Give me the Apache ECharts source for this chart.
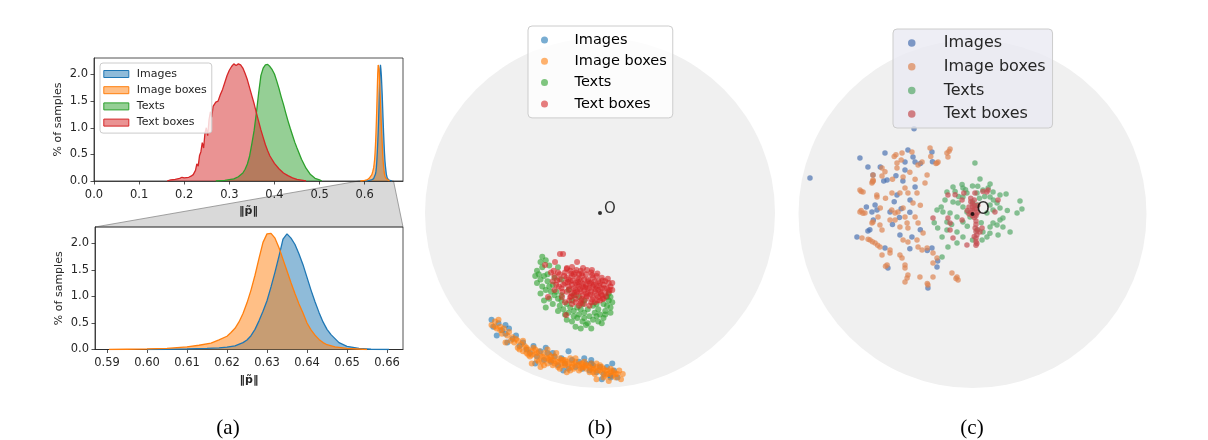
<!DOCTYPE html>
<html><head><meta charset="utf-8">
<script src="https://cdn.jsdelivr.net/npm/echarts@6/dist/echarts.min.js"></script>
<style>html,body{margin:0;padding:0;background:#fff}#c{width:1208px;height:440px}</style>
</head><body><div id="c"></div>
<script>
// ---------- categories ----------
const seriesNames = ['Images', 'Image boxes', 'Texts', 'Text boxes'];
const captions = ['(a)', '(b)', '(c)'];
const axisTitleX = '‖p̃‖';
const axisTitleY = '% of samples';
const originLabel = 'O';

// ---------- tick labels ----------
const topXTicks = [0.0, 0.1, 0.2, 0.3, 0.4, 0.5, 0.6];
const botXTicks = [0.59, 0.60, 0.61, 0.62, 0.63, 0.64, 0.65, 0.66];
const histYTicks = [0.0, 0.5, 1.0, 1.5, 2.0];
const topXRange = [0, 0.685];
const botXRange = [0.587, 0.664];
const histYRange = [0, 2.31];
const diskRange = [-1, 1];

// ---------- histogram values (% of samples) ----------
const imagesX = [0.60,0.605,0.61,0.615,0.618,0.62,0.622,0.624,0.625,0.626,0.627,0.628,0.629,0.63,0.631,0.632,0.633,0.634,0.635,0.636,0.637,0.638,0.639,0.64,0.641,0.642,0.643,0.644,0.645,0.646,0.648,0.65,0.653,0.656,0.6605];
const imagesY = [0,0.005,0.01,0.02,0.03,0.045,0.07,0.13,0.18,0.26,0.38,0.54,0.72,0.92,1.18,1.46,1.76,2.08,2.18,2.10,1.98,1.80,1.60,1.36,1.12,0.90,0.70,0.52,0.38,0.28,0.13,0.06,0.02,0.005,0];
const imageBoxesX = [0.5905,0.595,0.60,0.605,0.61,0.613,0.616,0.618,0.62,0.621,0.622,0.623,0.624,0.625,0.626,0.627,0.628,0.629,0.63,0.631,0.632,0.633,0.634,0.635,0.636,0.637,0.638,0.639,0.64,0.641,0.642,0.643,0.644,0.645,0.647,0.65,0.655];
const imageBoxesY = [0,0.005,0.01,0.02,0.05,0.08,0.12,0.18,0.25,0.32,0.40,0.52,0.68,0.88,1.12,1.40,1.72,2.02,2.18,2.19,2.10,1.92,1.70,1.48,1.26,1.05,0.86,0.69,0.50,0.37,0.27,0.19,0.13,0.09,0.05,0.02,0];
const textsX = [0.27,0.29,0.31,0.32,0.33,0.335,0.34,0.345,0.35,0.355,0.36,0.365,0.37,0.375,0.38,0.385,0.39,0.395,0.40,0.405,0.41,0.415,0.42,0.425,0.43,0.435,0.44,0.445,0.45,0.46,0.47,0.48,0.49,0.50,0.505];
const textsY = [0,0.01,0.04,0.08,0.15,0.22,0.32,0.47,0.70,0.95,1.28,1.65,1.98,2.12,2.18,2.19,2.15,2.09,2.01,1.88,1.74,1.58,1.44,1.28,1.13,0.99,0.86,0.73,0.62,0.41,0.24,0.12,0.05,0.02,0];
const textBoxesX = [0.162,0.17,0.18,0.19,0.195,0.20,0.21,0.215,0.22,0.225,0.228,0.231,0.234,0.237,0.24,0.243,0.246,0.249,0.252,0.255,0.258,0.261,0.264,0.267,0.27,0.275,0.28,0.285,0.29,0.295,0.30,0.305,0.31,0.315,0.32,0.325,0.33,0.335,0.34,0.345,0.35,0.355,0.36,0.365,0.37,0.375,0.38,0.385,0.39,0.40,0.41,0.42,0.43,0.44,0.45,0.46,0.47];
const textBoxesY = [0,0.02,0.03,0.05,0.07,0.06,0.07,0.09,0.12,0.20,0.32,0.28,0.48,0.55,0.72,0.62,0.90,1.00,0.85,1.15,1.30,1.20,1.40,1.38,1.48,1.50,1.62,1.72,1.85,1.98,2.08,2.15,2.20,2.17,2.20,2.18,2.12,2.02,1.90,1.75,1.60,1.45,1.28,1.12,0.96,0.82,0.68,0.57,0.47,0.33,0.23,0.15,0.10,0.06,0.03,0.015,0];

// ---------- panel (b) embeddings (Poincaré disk coords) ----------
const bImages = [[-0.62,-0.61],[-0.61,-0.65],[-0.58,-0.63],[-0.56,-0.67],[-0.54,-0.69],[-0.52,-0.66],[-0.50,-0.72],[-0.48,-0.70],[-0.46,-0.76],[-0.44,-0.74],[-0.42,-0.78],[-0.40,-0.80],[-0.38,-0.76],[-0.36,-0.82],[-0.34,-0.79],[-0.32,-0.84],[-0.30,-0.80],[-0.28,-0.85],[-0.26,-0.82],[-0.24,-0.87],[-0.22,-0.83],[-0.20,-0.86],[-0.18,-0.89],[-0.16,-0.84],[-0.14,-0.88],[-0.12,-0.85],[-0.10,-0.89],[-0.08,-0.86],[-0.06,-0.90],[-0.04,-0.87],[-0.02,-0.91],[0.00,-0.88],[0.02,-0.92],[0.04,-0.88],[0.06,-0.93],[0.08,-0.90],[0.10,-0.94],[-0.31,-0.77],[-0.27,-0.80],[-0.09,-0.83],[-0.05,-0.84],[0.07,-0.86],[-0.37,-0.86],[-0.21,-0.90],[0.01,-0.95],[-0.54,-0.64],[-0.59,-0.70],[-0.53,-0.74],[-0.18,-0.79],[-0.05,-0.86],[0.06,-0.94]];
const bImageBoxes = [[-0.62,-0.64],[-0.60,-0.62],[-0.59,-0.66],[-0.57,-0.65],[-0.56,-0.69],[-0.55,-0.66],[-0.53,-0.70],[-0.52,-0.68],[-0.51,-0.73],[-0.50,-0.71],[-0.49,-0.74],[-0.47,-0.73],[-0.47,-0.77],[-0.45,-0.75],[-0.44,-0.79],
[-0.43,-0.76],[-0.42,-0.80],[-0.41,-0.78],[-0.40,-0.82],[-0.39,-0.79],[-0.38,-0.77],[-0.37,-0.81],[-0.36,-0.84],[-0.35,-0.79],[-0.34,-0.82],[-0.33,-0.85],[-0.32,-0.80],[-0.31,-0.83],[-0.30,-0.86],[-0.29,-0.81],[-0.28,-0.84],[-0.27,-0.87],[-0.26,-0.82],[-0.25,-0.85],[-0.24,-0.88],[-0.23,-0.83],[-0.22,-0.86],[-0.21,-0.84],[-0.20,-0.87],[-0.19,-0.85],[-0.18,-0.88],[-0.17,-0.83],[-0.16,-0.86],[-0.15,-0.89],[-0.14,-0.85],[-0.13,-0.87],[-0.12,-0.90],[-0.11,-0.86],[-0.10,-0.88],[-0.09,-0.85],[-0.08,-0.89],[-0.07,-0.87],[-0.06,-0.91],[-0.05,-0.86],[-0.04,-0.89],[-0.03,-0.92],[-0.02,-0.88],[-0.01,-0.90],[0.00,-0.87],[0.01,-0.91],[0.02,-0.89],[0.03,-0.93],[0.04,-0.90],[0.05,-0.92],[0.06,-0.89],[0.07,-0.93],[0.08,-0.91],[0.09,-0.94],[0.10,-0.92],[0.12,-0.95],[0.11,-0.90],
[-0.42,-0.77],[-0.39,-0.81],[-0.36,-0.80],[-0.33,-0.82],[-0.30,-0.83],[-0.27,-0.84],[-0.24,-0.85],[-0.21,-0.87],[-0.18,-0.86],[-0.15,-0.86],[-0.12,-0.87],[-0.09,-0.88],[-0.06,-0.88],[-0.03,-0.89],[0.00,-0.90],[0.03,-0.90],[0.06,-0.91],
[-0.39,-0.86],[-0.25,-0.80],[-0.34,-0.88],[-0.19,-0.91],[-0.02,-0.95],[0.05,-0.96],[0.13,-0.92],[-0.44,-0.73],[-0.58,-0.61],[-0.54,-0.74],[-0.30,-0.78],
[-0.41,-0.81],[-0.37,-0.78],[-0.35,-0.85],[-0.32,-0.87],[-0.29,-0.84],[-0.26,-0.86],[-0.23,-0.89],[-0.20,-0.84],[-0.17,-0.90],[-0.14,-0.83],[-0.11,-0.89],[-0.08,-0.87],[-0.05,-0.89],[-0.02,-0.86],[0.01,-0.88],[0.04,-0.92],[0.07,-0.90],[0.09,-0.92],[-0.28,-0.82],[-0.22,-0.84],[-0.16,-0.88],[-0.10,-0.86],[-0.04,-0.91],[0.02,-0.94],[-0.46,-0.78],[-0.48,-0.72],[-0.57,-0.67],[-0.60,-0.65]];
const bTexts = [[-0.36,-0.33],[-0.34,-0.28],[-0.34,-0.38],[-0.31,-0.44],[-0.29,-0.49],[-0.30,-0.35],[-0.27,-0.41],[-0.32,-0.50],[-0.25,-0.45],[-0.31,-0.54],[-0.33,-0.31],[-0.29,-0.30],[-0.36,-0.40],[-0.28,-0.45],[-0.30,-0.39],[-0.26,-0.37],[-0.34,-0.46],[-0.27,-0.52],[-0.24,-0.49],[-0.31,-0.27],
[-0.22,-0.50],[-0.19,-0.52],[-0.16,-0.50],[-0.13,-0.54],[-0.10,-0.52],[-0.07,-0.55],[-0.04,-0.53],[-0.01,-0.55],[0.02,-0.52],[0.05,-0.50],
[-0.21,-0.55],[-0.18,-0.57],[-0.15,-0.56],[-0.12,-0.58],[-0.09,-0.57],[-0.06,-0.59],[-0.03,-0.57],[0.00,-0.58],[0.03,-0.56],[0.06,-0.54],
[-0.19,-0.61],[-0.16,-0.62],[-0.13,-0.60],[-0.10,-0.62],[-0.07,-0.63],[-0.04,-0.61],[-0.01,-0.62],[0.02,-0.60],
[-0.14,-0.65],[-0.11,-0.66],[-0.08,-0.64],[-0.05,-0.66],[-0.20,-0.58],[-0.23,-0.53],
[0.05,-0.46],[0.06,-0.48],[0.04,-0.53],[0.07,-0.51],[0.03,-0.58],[0.06,-0.57],
[-0.22,-0.38],[-0.18,-0.44],[-0.15,-0.47],[-0.24,-0.31],[-0.12,-0.48],[-0.09,-0.50],
[-0.35,-0.35],[-0.33,-0.42],[-0.32,-0.36],[-0.29,-0.42],[-0.26,-0.47],[-0.22,-0.47],[-0.17,-0.54],[-0.11,-0.55],[-0.02,-0.59],[0.01,-0.63],[-0.09,-0.60],[-0.15,-0.59],[-0.24,-0.56],[0.04,-0.48],[-0.02,-0.52],[-0.37,-0.36],[-0.33,-0.25]];
const bTextBoxes = [[-0.229,-0.234],[-0.211,-0.234],[-0.257,-0.280],[-0.131,-0.280],[-0.314,-0.297],[-0.189,-0.314],[-0.160,-0.309],[-0.097,-0.314],[-0.046,-0.326],[-0.217,-0.480],[-0.194,-0.583],[-0.297,-0.480],
[-0.20,-0.34],[-0.17,-0.33],[-0.14,-0.34],[-0.11,-0.33],[-0.08,-0.35],[-0.05,-0.34],[-0.02,-0.36],[0.01,-0.37],[0.03,-0.39],
[-0.19,-0.37],[-0.16,-0.36],[-0.13,-0.37],[-0.10,-0.36],[-0.07,-0.38],[-0.04,-0.37],[-0.01,-0.39],[0.02,-0.41],[0.05,-0.40],
[-0.20,-0.40],[-0.17,-0.39],[-0.14,-0.40],[-0.11,-0.39],[-0.08,-0.41],[-0.05,-0.40],[-0.02,-0.42],[0.01,-0.43],[0.04,-0.43],[0.06,-0.42],
[-0.18,-0.42],[-0.15,-0.43],[-0.12,-0.42],[-0.09,-0.44],[-0.06,-0.43],[-0.03,-0.45],[0.00,-0.45],[0.03,-0.46],[0.05,-0.45],
[-0.19,-0.45],[-0.16,-0.46],[-0.13,-0.45],[-0.10,-0.47],[-0.07,-0.46],[-0.04,-0.48],[-0.01,-0.48],[0.02,-0.49],
[-0.17,-0.48],[-0.14,-0.49],[-0.11,-0.50],[-0.08,-0.49],[-0.05,-0.51],
[-0.15,-0.35],[-0.12,-0.38],[-0.09,-0.38],[-0.06,-0.40],[-0.03,-0.39],[0.00,-0.40],[-0.13,-0.41],[-0.10,-0.42],[-0.07,-0.43],[-0.04,-0.42],[-0.01,-0.44],[-0.16,-0.41],[-0.11,-0.45],[-0.08,-0.46],[-0.05,-0.45],[-0.02,-0.47],[0.01,-0.47],[-0.14,-0.44],[-0.18,-0.38],[-0.12,-0.35],
[-0.28,-0.34],[-0.26,-0.36],[-0.24,-0.34],[-0.27,-0.39],[-0.25,-0.41],[-0.23,-0.38],[-0.22,-0.43],[-0.26,-0.44],[-0.23,-0.35],[-0.21,-0.41],
[-0.20,-0.51],[-0.16,-0.52],[-0.12,-0.53],[-0.09,-0.52],[-0.06,-0.53],[-0.03,-0.51],[-0.14,-0.51],[0.00,-0.50],[0.07,-0.40],[0.07,-0.44],
[-0.19,-0.32],[-0.165,-0.345],[-0.135,-0.325],[-0.105,-0.345],[-0.075,-0.325],[-0.045,-0.355],[-0.015,-0.345],[0.015,-0.385],[0.045,-0.375],
[-0.185,-0.395],[-0.155,-0.385],[-0.125,-0.395],[-0.095,-0.405],[-0.065,-0.39],[-0.035,-0.41],[-0.005,-0.415],[0.025,-0.43],[0.055,-0.44],
[-0.175,-0.435],[-0.145,-0.455],[-0.115,-0.435],[-0.085,-0.425],[-0.055,-0.465],[-0.025,-0.435],[0.005,-0.46],[0.035,-0.475],
[-0.165,-0.475],[-0.135,-0.47],[-0.105,-0.49],[-0.075,-0.475],[-0.045,-0.495],[-0.015,-0.5],[0.015,-0.49],
[-0.205,-0.36],[-0.215,-0.45],[-0.245,-0.385],[-0.265,-0.33],[-0.235,-0.42],[-0.175,-0.50],[-0.11,-0.515]];

// ---------- panel (c) embeddings ----------
const cImages = [[-0.503,0.351],[-0.371,0.368],[-0.342,0.328],[-0.233,0.356],[-0.647,0.322],[-0.601,0.27],[-0.388,0.299],[-0.33,0.299],[-0.388,0.253],[-0.491,0.195],[-0.434,0.109],[-0.33,0.155],[-0.359,0.08],[-0.578,0.011],[-0.549,0.023],[-0.474,0.011],[-0.601,-0.098],[-0.664,-0.132],[-0.503,-0.195],[-0.417,-0.121],[-0.348,-0.132],[-0.233,-0.195],[-0.204,-0.305],[-0.486,-0.31],[-0.256,-0.425],[-0.56,0.052],[-0.934,0.207],[-0.336,0.49],[-0.30,0.29],[-0.23,0.30],[-0.26,-0.21],[-0.20,-0.27],[-0.45,0.07],[-0.42,-0.02],[-0.40,0.19],[-0.53,0.27],[-0.36,-0.20],[-0.30,-0.09],[-0.41,0.03],[-0.46,-0.06],[-0.61,0.04],[-0.44,0.22],[-0.572,0.224],[-0.57,-0.035],[-0.59,-0.09],[-0.51,0.19],[-0.36,0.01]];
const cImageBoxes = [[-0.44,0.34],[-0.45,0.33],[-0.405,0.35],[-0.348,0.356],[-0.244,0.379],[-0.147,0.351],[-0.129,0.374],[-0.141,0.328],[-0.135,0.36],
[-0.52,0.264],[-0.434,0.293],[-0.29,0.299],[-0.313,0.282],[-0.204,0.293],[-0.198,0.299],[-0.21,0.29],
[-0.572,0.224],[-0.52,0.218],[-0.434,0.264],[-0.399,0.213],[-0.578,0.178],[-0.57,0.19],[-0.575,0.185],[-0.572,0.195],[-0.261,0.224],[-0.273,0.178],
[-0.647,0.138],[-0.629,0.126],[-0.64,0.13],[-0.549,0.098],[-0.463,0.121],[-0.417,0.121],[-0.388,0.149],[-0.371,0.121],[-0.319,0.121],[-0.342,0.063],
[-0.647,0.011],[-0.64,0.02],[-0.63,0.005],[-0.618,0.006],[-0.543,-0.017],[-0.445,0.006],[-0.428,0.011],[-0.399,0.034],[-0.388,-0.017],[-0.474,-0.034],[-0.445,-0.034],[-0.578,-0.052],[-0.572,-0.046],
[-0.532,-0.063],[-0.52,-0.092],[-0.417,-0.075],[-0.371,-0.08],[-0.376,-0.052],
[-0.635,-0.138],[-0.60,-0.145],[-0.589,-0.149],[-0.575,-0.16],[-0.56,-0.167],[-0.545,-0.18],[-0.532,-0.19],[-0.474,-0.207],[-0.399,-0.149],[-0.371,-0.161],[-0.319,-0.149],[-0.313,-0.19],[-0.29,-0.207],[-0.261,-0.195],[-0.227,-0.224],[-0.204,-0.253],[-0.227,-0.282],
[-0.52,-0.236],[-0.474,-0.224],[-0.417,-0.236],[-0.405,-0.253],[-0.491,-0.293],[-0.50,-0.30],[-0.388,-0.293],[-0.388,-0.31],[-0.371,-0.351],[-0.376,-0.368],[-0.388,-0.391],[-0.302,-0.362],[-0.256,-0.408],[-0.26,-0.40],[-0.227,-0.362],[-0.118,-0.339],[-0.089,-0.362],[-0.083,-0.379],[-0.095,-0.37],
[-0.33,-0.017],[-0.313,-0.052],[-0.284,-0.109],[-0.36,0.24],[-0.30,0.05],[-0.46,0.20],[-0.50,0.09],[-0.33,0.20],[-0.24,0.33],[-0.41,0.31],[-0.53,0.034],[-0.464,0.023],[-0.55,0.109],[-0.503,0.243]];
const cTexts = [[0.014,0.293],[0.043,0.201],[0.101,0.172],[0,0.161],[-0.055,0.149],[-0.112,0.155],[-0.147,0.126],[-0.158,0.080],[-0.112,0.069],[-0.083,0.063],[-0.055,0.098],[-0.032,0.121],[0.026,0.121],[0.060,0.138],[0.118,0.126],[0.158,0.109],[0.193,0.115],[0.101,0.098],[0.141,0.063],[0.273,0.075],[0.284,0.029],[0.256,0.006],[0.175,-0.023],[0.158,-0.034],[0.118,-0.052],[0.101,-0.075],[0.141,-0.063],[0.175,-0.075],[0.216,-0.103],[0.147,-0.121],[0.06,-0.103],[0.026,-0.092],[0.083,-0.132],[0.055,-0.149],[0,-0.149],[-0.055,-0.132],[-0.089,-0.103],[-0.147,-0.092],[-0.175,-0.132],[-0.141,-0.19],[-0.089,-0.167],[-0.175,-0.247],[-0.204,0.023],[-0.17,0.011],[-0.129,0.006],[-0.089,-0.017],[-0.147,-0.046],[-0.055,-0.046],[-0.014,-0.017],[0.083,0.006],[0.118,0.023],[0.158,0.034],[-0.055,0.04],[0,0.069],[0.026,0.052],[0.101,0.052],[-0.032,0.011],
[-0.18,0.04],[-0.10,0.13],[-0.06,0.17],[0.03,0.16],[0.07,0.10],[0.12,0.08],[-0.12,-0.06],[-0.03,-0.07],[0.05,-0.05],[0.20,0.02],[-0.20,-0.08],[0.10,-0.11],[-0.22,-0.05],[-0.08,0.10],[0.04,0.09],[0.09,0.15],[-0.04,0.14]];
const cTextBoxes = [[0,0.02],[0.01,0.03],[-0.01,0.01],[0.02,0.0],[-0.02,0.04],[0,0.06],[0.01,0.05],[-0.01,0.07],[0.02,0.03],[-0.03,0.02],[0.03,0.01],[0,-0.01],[0.01,-0.02],[-0.02,0],[0.02,-0.01],[0.01,0.08],[-0.01,0.09],[0.0,0.04],[0.03,0.05],
[0.02,-0.04],[0.02,-0.06],[0.015,-0.08],[0.02,-0.10],[0.025,-0.12],[0.02,-0.14],[0.02,-0.16],[0.02,-0.18],[0.03,-0.09],[0.01,-0.13],[0.025,-0.17],
[-0.141,0.109],[-0.06,0.08],[0.014,0.121],[0.083,0.126],[0.089,0.138],[0.147,0.08],[0.129,0.011],[-0.227,-0.023],[-0.141,-0.023],[-0.129,-0.052],[-0.129,-0.092],[-0.06,-0.034],[-0.112,-0.138],[-0.032,-0.178],[0.055,-0.08],[0.043,-0.103],[-0.10,0.11],[-0.05,0.12],[0.06,0.13]];
const origin = [[0, 0]];
const diskUnit = [[0, 0, 1]];

// ---------- styling ----------
const tab10 = ['#1f77b4', '#ff7f0e', '#2ca02c', '#d62728'];
const deep = ['#4C72B0', '#DD8452', '#55A868', '#C44E52'];
function rgba(hex, a) {
  const n = parseInt(hex.slice(1), 16);
  return 'rgba(' + ((n >> 16) & 255) + ',' + ((n >> 8) & 255) + ',' + (n & 255) + ',' + a + ')';
}
const ink = '#262626';
const font = 'DejaVu Sans';

function histAxis(range, ticks, digits, isX) {
  return {
    type: 'value', min: range[0], max: range[1], gridIndex: 0,
    axisLine: { show: true, onZero: false, lineStyle: { color: ink, width: 0.8 } },
    axisTick: { show: true, length: 3.5, customValues: ticks, lineStyle: { color: ink, width: 0.8 } },
    axisLabel: { customValues: ticks, color: ink, fontSize: 11.5, fontFamily: font, margin: isX ? 8 : 6,
      formatter: v => Number(v).toFixed(digits) },
    splitLine: { show: false },
    name: isX ? axisTitleX : axisTitleY, nameLocation: 'middle', nameGap: isX ? 25 : 30,
    nameTextStyle: { color: ink, fontSize: 11, fontFamily: font, fontWeight: isX ? 'bold' : 'normal' }
  };
}
function diskAxis(g) {
  return { type: 'value', gridIndex: g, min: diskRange[0], max: diskRange[1], show: false };
}
function hist(name, xs, ys, color, g) {
  return { type: 'line', name, xAxisIndex: g, yAxisIndex: g, data: xs.map((x, i) => [x, ys[i]]),
    symbol: 'none', silent: true, lineStyle: { color, width: 1.3 }, itemStyle: { color },
    areaStyle: { color, opacity: 0.5 }, z: 2 };
}
function disk(g) {
  return { type: 'custom', xAxisIndex: g, yAxisIndex: g, data: diskUnit, silent: true, z: 1,
    renderItem: (params, api) => {
      const c = api.coord([api.value(0), api.value(1)]);
      const e = api.coord([api.value(0) + api.value(2), api.value(1)]);
      return { type: 'circle', shape: { cx: c[0], cy: c[1], r: e[0] - c[0] }, style: { fill: '#f0f0f0' } };
    } };
}
function scat(name, data, color, g, size, op) {
  return { type: 'scatter', name, xAxisIndex: g, yAxisIndex: g, data, symbolSize: size, silent: true,
    itemStyle: { color, opacity: op }, z: 3 };
}
function originSeries(g, fs, off) {
  return { type: 'scatter', xAxisIndex: g, yAxisIndex: g, data: origin, symbolSize: 4, silent: true, z: 5,
    itemStyle: { color: '#000' },
    label: { show: true, formatter: originLabel, position: 'right', distance: 2, offset: off,
      fontSize: fs, fontFamily: font, color: '#000' } };
}
function legendItems(colors, op, border) {
  return seriesNames.map((n, i) => ({ name: n, itemStyle: border
    ? { color: rgba(colors[i], op), borderColor: colors[i], borderWidth: 1 }
    : { color: rgba(colors[i], op), borderWidth: 0 } }));
}

const chart = echarts.init(document.getElementById('c'), null, { renderer: 'canvas' });
const option = {
  animation: false,
  backgroundColor: '#ffffff',
  title: captions.map((t, i) => ({ text: t, left: [228, 600, 972][i], top: 418, textAlign: 'center', padding: 0,
    textStyle: { fontFamily: 'Liberation Serif', fontSize: 21, fontWeight: 'normal', color: '#000' } })),
  grid: [
    { left: 94, top: 58, width: 309, height: 123, show: true, borderColor: ink, borderWidth: 0.8 },
    { left: 95, top: 227, width: 308, height: 122.5, show: true, borderColor: ink, borderWidth: 0.8 },
    { left: 425, top: 38, width: 350, height: 350 },
    { left: 798.5, top: 40, width: 348, height: 348 }
  ],
  xAxis: [
    Object.assign(histAxis(topXRange, topXTicks, 1, true), { gridIndex: 0 }),
    Object.assign(histAxis(botXRange, botXTicks, 2, true), { gridIndex: 1 }),
    diskAxis(2), diskAxis(3)
  ],
  yAxis: [
    Object.assign(histAxis(histYRange, histYTicks, 1, false), { gridIndex: 0 }),
    Object.assign(histAxis(histYRange, histYTicks, 1, false), { gridIndex: 1 }),
    diskAxis(2), diskAxis(3)
  ],
  legend: [
    { orient: 'vertical', left: 100, top: 63, icon: 'rect', itemWidth: 25, itemHeight: 7, itemGap: 3.2,
      padding: [4.5, 5, 4, 3.3], backgroundColor: 'rgba(255,255,255,0.8)', borderColor: '#cccccc', borderWidth: 1, borderRadius: 3,
      selectedMode: false, data: legendItems(tab10, 0.5, true),
      textStyle: { fontSize: 11, lineHeight: 13, fontFamily: font, color: ink, padding: [0, 0, 0, 3] } },
    { orient: 'vertical', left: 528, top: 26, icon: 'circle', itemWidth: 14, itemHeight: 7, itemGap: 5.3,
      padding: [6, 6, 6, 13], backgroundColor: 'rgba(255,255,255,0.8)', borderColor: '#cccccc', borderWidth: 1, borderRadius: 4,
      selectedMode: false, data: legendItems(tab10, 0.6, false),
      textStyle: { fontSize: 14.5, lineHeight: 16, fontFamily: font, color: '#000', padding: [0, 0, 0, 18] } },
    { orient: 'vertical', left: 893, top: 29, icon: 'circle', itemWidth: 14, itemHeight: 7.5, itemGap: 6.7,
      padding: [5.5, 7, 5.4, 15], backgroundColor: 'rgba(234,234,242,0.8)', borderColor: '#cccccc', borderWidth: 1, borderRadius: 4,
      selectedMode: false, data: legendItems(deep, 0.7, false),
      textStyle: { fontSize: 16, lineHeight: 17, fontFamily: font, color: ink, padding: [0, 0, 0, 20] } }
  ],
  series: [
    hist(seriesNames[0], imagesX, imagesY, tab10[0], 0),
    hist(seriesNames[1], imageBoxesX, imageBoxesY, tab10[1], 0),
    hist(seriesNames[2], textsX, textsY, tab10[2], 0),
    hist(seriesNames[3], textBoxesX, textBoxesY, tab10[3], 0),
    hist(seriesNames[0], imagesX, imagesY, tab10[0], 1),
    hist(seriesNames[1], imageBoxesX, imageBoxesY, tab10[1], 1),
    disk(2),
    scat(seriesNames[0], bImages, tab10[0], 2, 6, 0.6),
    scat(seriesNames[1], bImageBoxes, tab10[1], 2, 6, 0.6),
    scat(seriesNames[2], bTexts, tab10[2], 2, 6, 0.6),
    scat(seriesNames[3], bTextBoxes, tab10[3], 2, 6, 0.6),
    originSeries(2, 15, [0, -4]),
    disk(3),
    scat(seriesNames[0], cImages, deep[0], 3, 5.5, 0.7),
    scat(seriesNames[1], cImageBoxes, deep[1], 3, 5.5, 0.7),
    scat(seriesNames[2], cTexts, deep[2], 3, 5.5, 0.7),
    scat(seriesNames[3], cTextBoxes, deep[3], 3, 5.5, 0.7),
    originSeries(3, 17, [0, -4])
  ]
};
chart.setOption(option);

// zoom-connector patch between the two histogram panels, from the axis scales
const p1 = chart.convertToPixel({ gridIndex: 0 }, [botXRange[0], histYRange[0]]);
const p2 = chart.convertToPixel({ gridIndex: 0 }, [botXRange[1], histYRange[0]]);
const p3 = chart.convertToPixel({ gridIndex: 1 }, [botXRange[1], histYRange[1]]);
const p4 = chart.convertToPixel({ gridIndex: 1 }, [botXRange[0], histYRange[1]]);
chart.setOption({ graphic: [{ type: 'polygon', z: -10, silent: true,
  shape: { points: [p1, p2, p3, p4] },
  style: { fill: '#d9d9d9', stroke: '#8c8c8c', lineWidth: 0.8 } }] });
</script></body></html>
